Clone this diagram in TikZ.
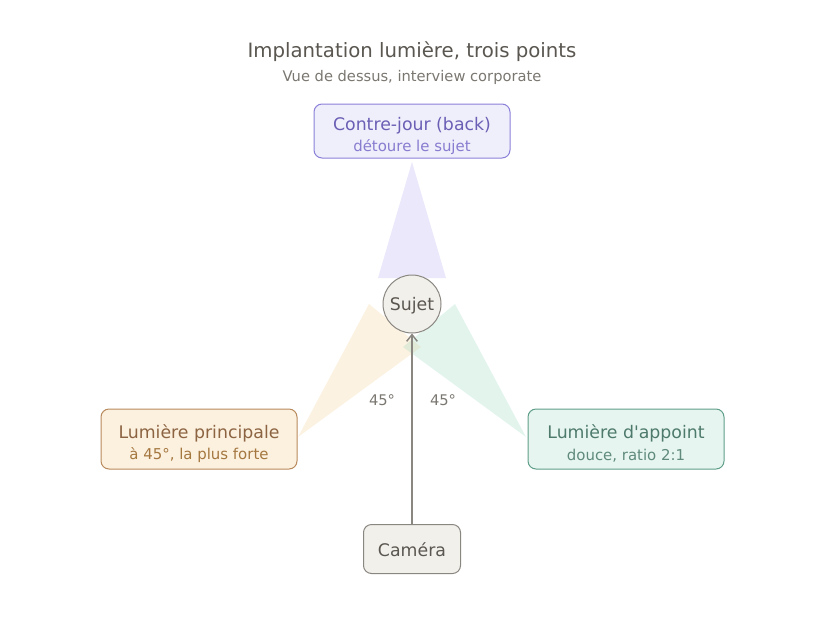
\documentclass[tikz,border=0pt]{standalone}
\usepackage{fontspec}
\setmainfont{DejaVu Sans}[Ligatures=TeXOff]
\usepackage{xcolor}
\usetikzlibrary{arrows.meta, positioning}

\definecolor{ink}{HTML}{5A5650}
\definecolor{inksoft}{HTML}{7A7670}
\definecolor{neutralfill}{HTML}{F2F0EB}
\definecolor{neutraldraw}{HTML}{8A8680}
\definecolor{backfill}{HTML}{EFEEFB}
\definecolor{backdraw}{HTML}{8B80D9}
\definecolor{backtext}{HTML}{6B5FB5}
\definecolor{backsub}{HTML}{877CD0}
\definecolor{backbeam}{HTML}{9F98E6}
\definecolor{keyfill}{HTML}{FCF0DF}
\definecolor{keydraw}{HTML}{B88A5C}
\definecolor{keytext}{HTML}{8C6442}
\definecolor{keysub}{HTML}{A4773F}
\definecolor{keybeam}{HTML}{F0C27A}
\definecolor{fillfill}{HTML}{E6F5EF}
\definecolor{filldraw}{HTML}{5F9E88}
\definecolor{filltext}{HTML}{4D7A6C}
\definecolor{fillsub}{HTML}{5F8A7C}
\definecolor{fillbeam}{HTML}{7FCFAE}

\newcommand{\mainsize}{\fontsize{13}{16}\selectfont}
\newcommand{\subsize}{\fontsize{11.2}{16}\selectfont}

\begin{document}
\begin{tikzpicture}[
    x=0.75pt, y=-0.75pt,
    font=\mainsize,
    >=Stealth,
    lamp/.style={draw=#1draw, fill=#1fill, text=#1text, rounded corners=6pt,
        line width=0.75pt, minimum width=147pt, minimum height=45pt,
        inner sep=2pt, align=center, text height=33pt},
    beam/.style={fill=#1beam, fill opacity=0.22},
    arr/.style={-{Straight Barb[length=5pt, width=8pt]}, line width=1.1pt, neutraldraw},
    angle/.style={font=\fontsize{11}{13}\selectfont, text=inksoft},
]
\useasboundingbox (0,0) rectangle (824,618);

%% Titles
\node[text=ink, font=\fontsize{14.8}{17}\selectfont] (title) at (412,52) {Implantation lumière, trois points};
\node[text=inksoft, font=\fontsize{11}{13}\selectfont] (subtitle) at (412,77.5) {Vue de dessus, interview corporate};

%% Light beams
\fill[beam=back] (412,162) -- (446,278) -- (378,278) -- cycle;
\fill[beam=key]  (298,437) -- (369,304) -- (421,347) -- cycle;
\fill[beam=fill] (526,437) -- (455,304) -- (403,347) -- cycle;

%% Lights, subject, camera
\node[lamp=back, minimum height=40.5pt] (back) at (412,131)
    {Contre-jour (back)\\{\subsize\color{backsub}détoure le sujet}};
\node[lamp=key] (key) at (199,439)
    {Lumière principale\\{\subsize\color{keysub}à 45°, la plus forte}};
\node[lamp=fill] (fill) at (626,439)
    {Lumière d'appoint\\{\subsize\color{fillsub}douce, ratio 2:1}};
\node[circle, draw=neutraldraw, fill=neutralfill, text=ink, line width=0.75pt,
    minimum size=43.5pt, inner sep=0pt, text height=12.9pt] (subject) at (412,304) {Sujet};
\node[draw=neutraldraw, fill=neutralfill, text=ink, rounded corners=6pt, line width=0.75pt,
    minimum width=72.75pt, minimum height=36.75pt, text height=11.9pt] (camera) at (412,549) {Caméra};

%% Camera axis
\draw[arr] (camera) -- (subject);
\node[angle] (anglekey) at (382,400) {45°};
\node[angle] (anglefill) at (443,400) {45°};
\end{tikzpicture}
\end{document}
